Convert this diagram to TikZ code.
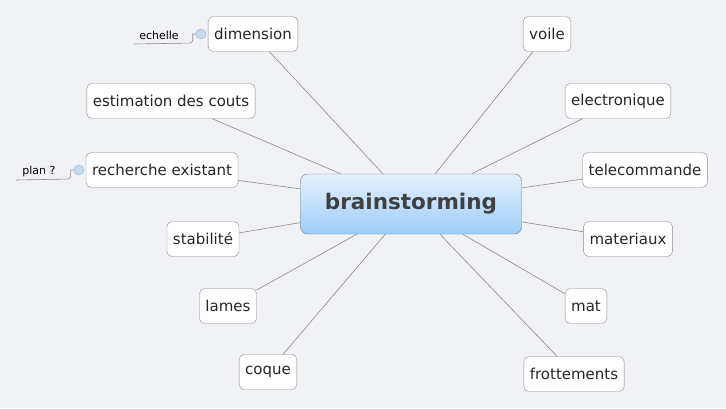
\documentclass[tikz,border=0pt]{standalone}
\usepackage{fontspec}
\setmainfont{DejaVu Sans}
\usetikzlibrary{positioning}
\definecolor{bg}{HTML}{F1F2F6}
\definecolor{edge}{HTML}{8C8C8C}
\definecolor{boxline}{HTML}{8A8A8A}
\definecolor{toptop}{HTML}{E4F1FD}
\definecolor{topbot}{HTML}{9ECDF7}
\definecolor{dotfill}{HTML}{C8DCF0}
\definecolor{dotline}{HTML}{9AB2CC}
\tikzset{
  topic/.style={draw=boxline, fill=white, rounded corners=5pt, minimum height=35pt,
    inner xsep=6pt, font=\fontsize{15}{18}\selectfont, text=black!85},
  central/.style={draw=boxline!90!black, rounded corners=7pt, top color=toptop, bottom color=topbot,
    minimum width=221pt, minimum height=60pt, font=\fontsize{21.5}{26}\bfseries, text=black!75},
  link/.style={draw=edge, line width=0.6pt},
  sub/.style={inner sep=2pt, font=\fontsize{11}{13}\selectfont, text=black},
  dot/.style={circle, draw=dotline, fill=dotfill, minimum size=10pt, inner sep=0pt}
}
\begin{document}
\begin{tikzpicture}[x=1pt,y=-1pt]
  \useasboundingbox[fill=bg] (0,0) rectangle (726,408);
  % centre
  \node[central] (brain) at (411,204) {brainstorming};
  % left side
  \node[topic] (dimension) at (253,34) {dimension};
  \node[topic] (estimation) at (171,101) {estimation des couts};
  \node[topic] (recherche) at (162,170) {recherche existant};
  \node[topic] (stabilite) at (203,239) {stabilité};
  \node[topic] (lames) at (228,306) {lames};
  \node[topic] (coque) at (268,372) {coque};
  % right side
  \node[topic] (voile) at (547,34) {voile};
  \node[topic] (electronique) at (618,101) {electronique};
  \node[topic] (telecommande) at (645,170) {telecommande};
  \node[topic] (materiaux) at (628,239) {materiaux};
  \node[topic] (mat) at (586,306) {mat};
  \node[topic] (frottements) at (574,374) {frottements};
  % links
  \foreach \t in {dimension,estimation,recherche,stabilite,lames,coque,
                  voile,electronique,telecommande,materiaux,mat,frottements}
    \draw[link] (brain) -- (\t);
  % sub topics
  \node[dot] (dimdot) at ([xshift=-7pt]dimension.west) {};
  \node[sub] (echelle) at (159,35) {echelle};
  \draw[link] (dimdot.west) -- ++(-3,0) [rounded corners=3pt] -- ++(0,9) -- (134,44);
  \node[dot] (recdot) at ([xshift=-7pt]recherche.west) {};
  \node[sub] (plan) at (39,171) {plan ?};
  \draw[link] (recdot.west) -- ++(-3,0) [rounded corners=3pt] -- ++(0,9) -- (16,180);
\end{tikzpicture}
\end{document}
